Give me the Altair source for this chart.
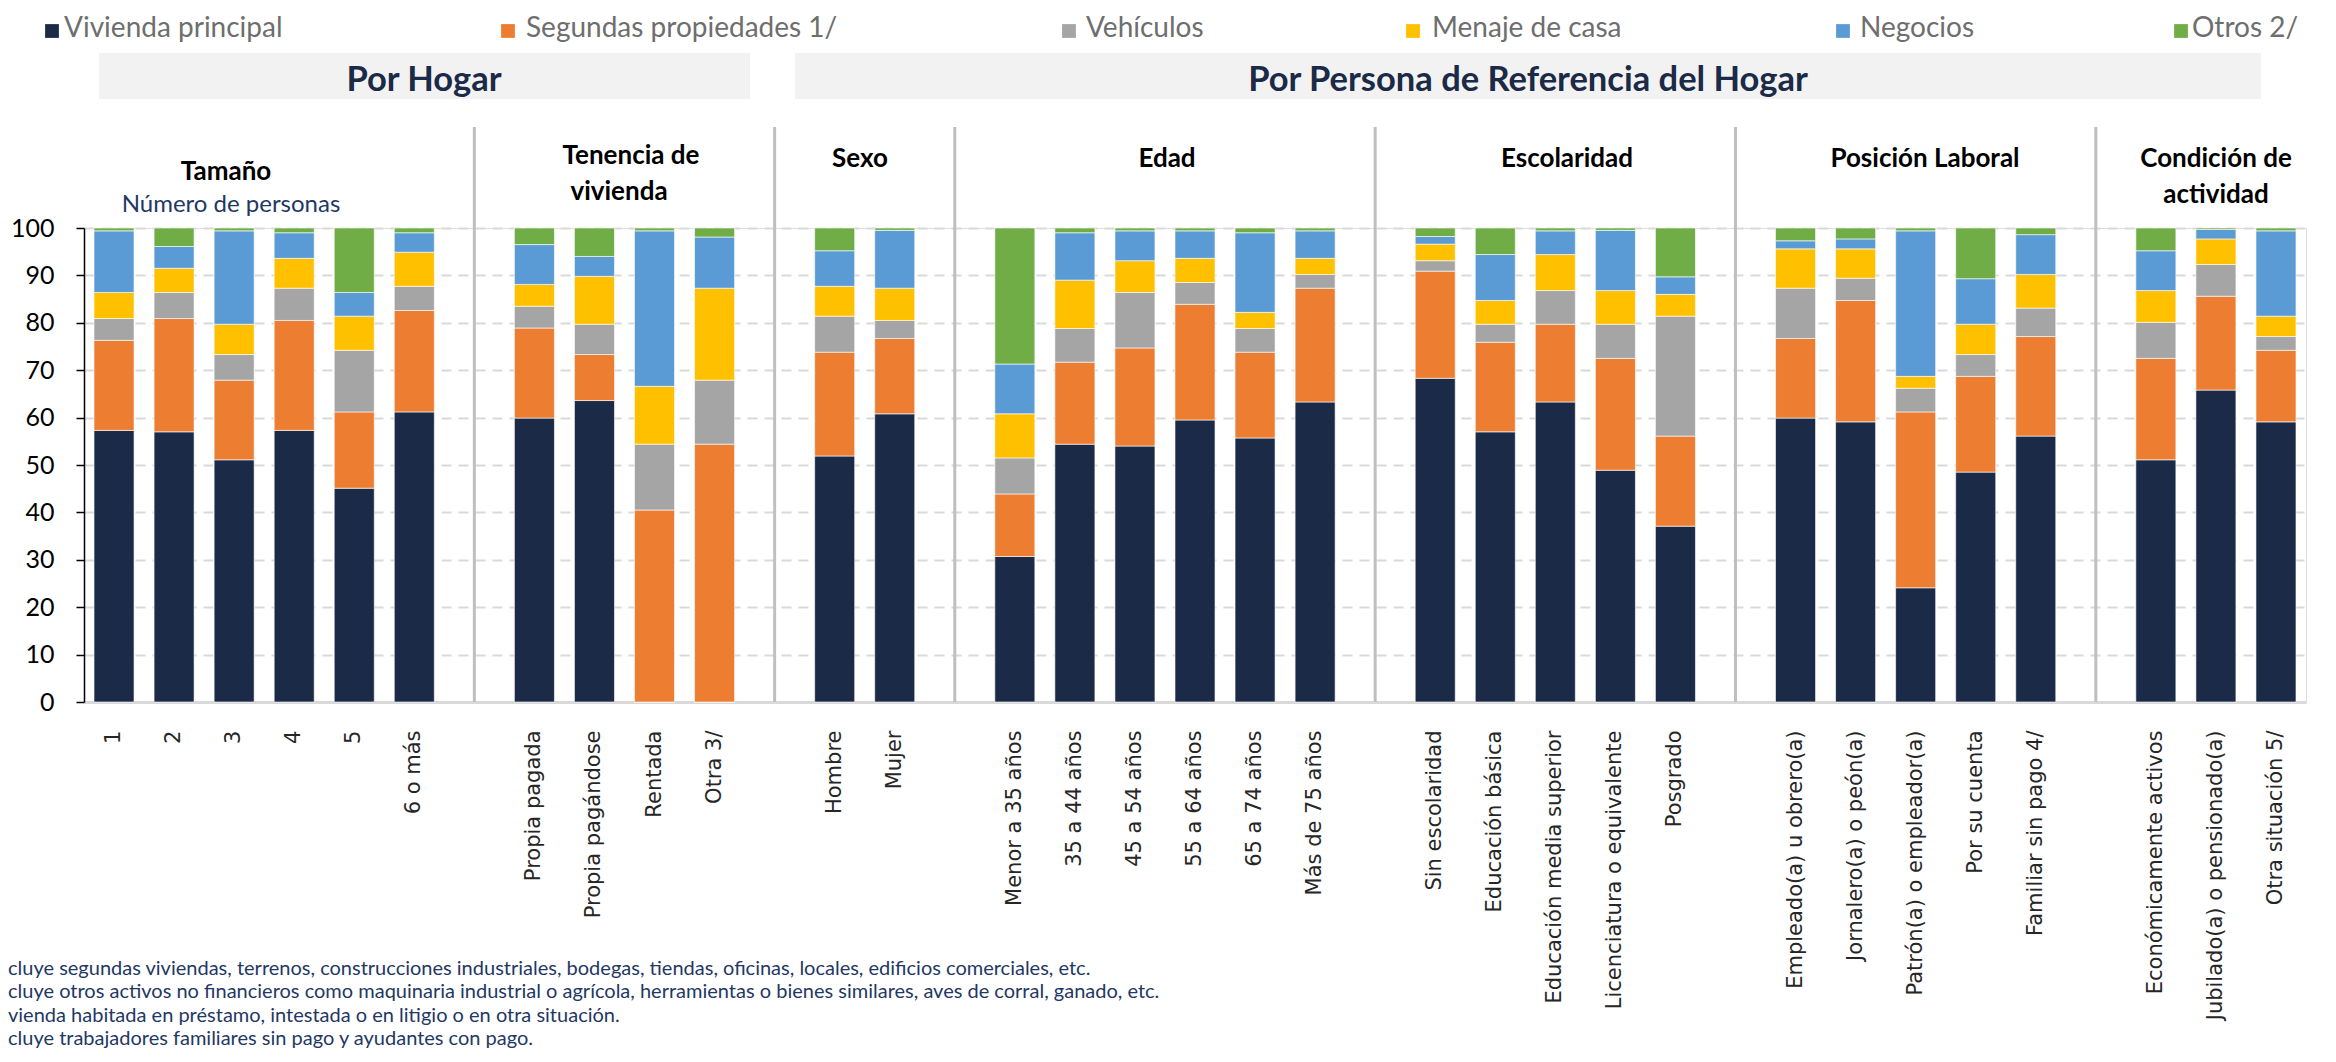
import altair as alt
import pandas as pd

# ---------------- data ----------------
series = ["Vivienda principal", "Segundas propiedades 1/", "Vehículos",
          "Menaje de casa", "Negocios", "Otros 2/"]
colors = ["#1B2A47", "#ED7D31", "#A5A5A5", "#FFC000", "#5B9BD5", "#70AD47"]

g_tamano = ["1", "2", "3", "4", "5", "6 o más"]
g_tenencia = ["Propia pagada", "Propia pagándose", "Rentada", "Otra 3/"]
g_sexo = ["Hombre", "Mujer"]
g_edad = ["Menor a 35 años", "35 a 44 años", "45 a 54 años", "55 a 64 años",
          "65 a 74 años", "Más de 75 años"]
g_escol = ["Sin escolaridad", "Educación básica", "Educación media superior",
           "Licenciatura o equivalente", "Posgrado"]
g_posic = ["Empleado(a) u obrero(a)", "Jornalero(a) o peón(a)",
           "Patrón(a) o empleador(a)", "Por su cuenta", "Familiar sin pago 4/"]
g_condic = ["Económicamente activos", "Jubilado(a) o pensionado(a)",
            "Otra situación 5/"]
groups = [g_tamano, g_tenencia, g_sexo, g_edad, g_escol, g_posic, g_condic]
spacers = [" " * (i + 1) for i in range(len(groups) - 1)]

vivienda = [57.3, 57.0, 51.1, 57.3, 45.1, 61.2,
            59.9, 63.6, 0.0, 0.0,
            51.9, 60.8,
            30.7, 54.4, 54.0, 59.5, 55.7, 63.3,
            68.3, 57.0, 63.3, 48.9, 37.1,
            59.9, 59.1, 24.1, 48.5, 56.1,
            51.1, 65.8, 59.1]
segundas = [19.0, 23.9, 16.8, 23.2, 16.1, 21.4,
            19.0, 9.7, 40.5, 54.4,
            21.9, 15.9,
            13.2, 17.3, 20.7, 24.4, 18.1, 24.0,
            22.6, 18.9, 16.4, 23.6, 19.0,
            16.8, 25.6, 37.1, 20.2, 21.0,
            21.4, 19.8, 15.1]
vehiculos = [4.6, 5.5, 5.4, 6.8, 13.0, 5.1,
             4.6, 6.4, 13.9, 13.5,
             7.6, 3.8,
             7.6, 7.1, 11.7, 4.6, 5.0, 2.9,
             2.2, 3.8, 7.1, 7.2, 25.3,
             10.6, 4.7, 5.0, 4.6, 6.0,
             7.6, 6.7, 2.9]
menaje = [5.5, 5.1, 6.4, 6.3, 7.2, 7.2,
          4.6, 10.1, 12.2, 19.4,
          6.3, 6.8,
          9.3, 10.2, 6.7, 5.1, 3.4, 3.4,
          3.5, 5.0, 7.6, 7.1, 4.6,
          8.3, 6.2, 2.5, 6.4, 7.1,
          6.7, 5.4, 4.3]
negocios = [13.0, 4.6, 19.7, 5.4, 5.0, 4.1,
            8.4, 4.2, 32.8, 10.8,
            7.5, 12.2,
            10.5, 10.0, 6.3, 5.8, 16.8, 5.8,
            1.6, 9.7, 5.0, 12.7, 3.7,
            1.7, 2.1, 30.7, 9.6, 8.4,
            8.4, 2.0, 18.0]
otros = [0.6, 3.9, 0.6, 1.0, 13.6, 1.0,
         3.5, 6.0, 0.6, 1.9,
         4.8, 0.5,
         28.7, 1.0, 0.6, 0.6, 1.0, 0.6,
         1.8, 5.6, 0.6, 0.5, 10.3,
         2.7, 2.3, 0.6, 10.7, 1.4,
         4.8, 0.3, 0.6]
values = [vivienda, segundas, vehiculos, menaje, negocios, otros]

group_titles = ["Tamaño", "Tenencia de", "vivienda", "Sexo", "Edad",
                "Escolaridad", "Posición Laboral", "Condición de", "actividad"]
subtitle = ["Número de personas"]
headers = ["Por Hogar", "Por Persona de Referencia del Hogar"]
footnotes = [
    "cluye segundas viviendas, terrenos, construcciones industriales, bodegas, tiendas, oficinas, locales, edificios comerciales, etc.",
    "cluye otros activos no financieros como maquinaria industrial o agrícola, herramientas o bienes similares, aves de corral, ganado, etc.",
    "vienda habitada en préstamo, intestada o en litigio o en otra situación.",
    "cluye trabajadores familiares sin pago y ayudantes con pago.",
]

# ---------------- tables ----------------
bar_cats = [c for g in groups for c in g]
domain = []
for i, g in enumerate(groups):
    domain += g
    if i < len(spacers):
        domain.append(spacers[i])

rows = []
for si, (s, vals) in enumerate(zip(series, values)):
    for c, v in zip(bar_cats, vals):
        rows.append({"cat": c, "serie": s, "idx": si, "v": v})
df = pd.DataFrame(rows)
sep_df = pd.DataFrame({"cat": spacers})

# annotation layout (pixels relative to plot origin)
leg_df = pd.DataFrame({"serie": series,
                       "mx": [-32, 424, 985, 1329, 1759, 2097],
                       "tx": [-20, 442, 1002, 1348, 1776, 2108]})
box_df = pd.DataFrame({"x1": [15, 711], "x2": [666, 2177]})
head_df = pd.DataFrame({"t": headers, "px": [340, 1444]})
title_df = pd.DataFrame({"t": group_titles,
                         "px": [142, 547, 535, 776, 1083, 1483, 1841, 2132, 2132],
                         "py": [-48, -64, -28, -61, -61, -61, -61, -61, -25]})
sub_df = pd.DataFrame({"t": subtitle, "px": [147], "py": [-16]})
foot_df = pd.DataFrame({"t": footnotes, "py": [747, 770, 794, 817]})

W, H = 2222, 474
xscale = alt.Scale(domain=domain, paddingInner=1 / 3, paddingOuter=1 / 6)
cscale = alt.Scale(domain=series, range=colors)

bars = alt.Chart(df).mark_bar(stroke="white", strokeWidth=1, strokeOpacity=0.6).encode(
    x=alt.X("cat:N", scale=xscale, sort=domain, title=None,
            axis=alt.Axis(labelAngle=-90, labelAlign="right", labelBaseline="middle",
                          labelFont="DejaVu Sans", labelFontSize=21, labelColor="#262626",
                          labelLimit=500, labelPadding=28, ticks=False, tickSize=0,
                          domainColor="#D9D9D9", domainWidth=3, grid=False)),
    y=alt.Y("v:Q", stack="zero", scale=alt.Scale(domain=[0, 100], nice=False),
            title=None,
            axis=alt.Axis(values=list(range(0, 101, 10)), labelFont="Lato",
                          labelFontSize=25, labelColor="#000000", labelPadding=22,
                          tickSize=8, tickColor="#000000", tickWidth=1.5,
                          domainColor="#000000", domainWidth=1.5,
                          grid=True, gridColor="#D9D9D9", gridWidth=2,
                          gridDash=[10, 7])),
    color=alt.Color("serie:N", scale=cscale, legend=None),
    order=alt.Order("idx:Q", sort="ascending"),
)

seps = alt.Chart(sep_df).mark_rule(color="#BFBFBF", strokeWidth=3).encode(
    x=alt.X("cat:N", scale=xscale, sort=domain, axis=None),
    y=alt.value(-101), y2=alt.value(H),
)

def px(field):
    return alt.X(field + ":Q", scale=None, axis=None)

def py(field):
    return alt.Y(field + ":Q", scale=None, axis=None)

leg_mark = alt.Chart(leg_df).mark_square(size=190, opacity=1).encode(
    x=px("mx"), y=alt.value(-197),
    color=alt.Color("serie:N", scale=cscale, legend=None))
leg_text = alt.Chart(leg_df).mark_text(
    align="left", baseline="alphabetic", font="Lato", fontSize=28, color="#6E6E6E"
).encode(x=px("tx"), y=alt.value(-191), text="serie:N")

boxes = alt.Chart(box_df).mark_rect(color="#F2F2F2").encode(
    x=px("x1"), x2="x2", y=alt.value(-175), y2=alt.value(-129))
head_text = alt.Chart(head_df).mark_text(
    align="center", baseline="alphabetic", font="Lato", fontSize=34.5,
    fontWeight="bold", color="#1B2A47"
).encode(x=px("px"), y=alt.value(-137), text="t:N")

titles = alt.Chart(title_df).mark_text(
    align="center", baseline="alphabetic", font="Lato", fontSize=26,
    fontWeight="bold", color="#000000"
).encode(x=px("px"), y=py("py"), text="t:N")
sub = alt.Chart(sub_df).mark_text(
    align="center", baseline="alphabetic", font="Lato", fontSize=24, color="#1F3864"
).encode(x=px("px"), y=py("py"), text="t:N")

foot = alt.Chart(foot_df).mark_text(
    align="left", baseline="alphabetic", font="Lato", fontSize=20, color="#1F3864"
).encode(x=alt.value(-76), y=py("py"), text="t:N")

chart = alt.layer(
    boxes, seps, bars, leg_mark, leg_text, head_text, titles, sub, foot
).resolve_scale(x="independent", y="independent").properties(
    width=W, height=H,
    autosize=alt.AutoSizeParams(type="none"),
    padding={"left": 76, "top": 220, "right": 20, "bottom": 348},
).configure_view(stroke=None).configure(background="white")

chart.save("out.html", embed_options={"renderer": "svg", "actions": False})
